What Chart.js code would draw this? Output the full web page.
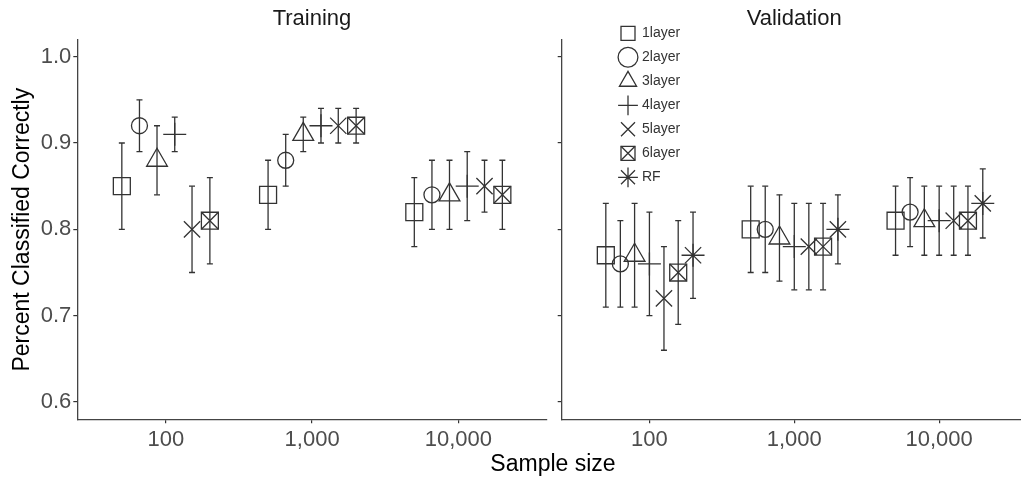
<!DOCTYPE html>
<html><head><meta charset="utf-8">
<script src="https://cdn.jsdelivr.net/npm/chart.js@4.4.1/dist/chart.umd.min.js"></script>
<style>
html,body{margin:0;padding:0;background:#fff;overflow:hidden;width:1021px;height:479px;}
#wrap{position:relative;width:1021px;height:479px;overflow:hidden;background:#fff;}
#c1{position:absolute;left:0;top:0;}
#c2{position:absolute;left:540px;top:0;}
#xtitle{position:absolute;left:453px;width:200px;text-align:center;top:452px;font-family:"Liberation Sans",Arial,sans-serif;font-size:23px;line-height:23px;color:#000;}
</style></head><body>
<div id="wrap">
<canvas id="c1" width="560" height="479"></canvas>
<canvas id="c2" width="500" height="479"></canvas>
<div id="xtitle">Sample size</div>
</div>
<script>
// ---------- data ----------
const seriesNames = ['1layer','2layer','3layer','4layer','5layer','6layer','RF'];
const xTickValues = [100, 1000, 10000];
const xTickLabels = ['100', '1,000', '10,000'];
const yTickValues = [0.6, 0.7, 0.8, 0.9, 1.0];
const yTickLabels = ['0.6', '0.7', '0.8', '0.9', '1.0'];

// Training (6 series, dodged around 100 / 1,000 / 10,000)
const trainSampleSize = [
  [50, 500, 5000], [66, 660, 6600], [87, 870, 8700],
  [115, 1150, 11500], [151, 1510, 15100], [200, 2000, 20000]
];
const trainAccuracy = [
  [0.85, 0.84, 0.82], [0.92, 0.88, 0.84], [0.88, 0.91, 0.84],
  [0.91, 0.92, 0.85], [0.80, 0.92, 0.85], [0.81, 0.92, 0.84]
];
const trainLower = [
  [0.80, 0.80, 0.78], [0.89, 0.85, 0.80], [0.84, 0.89, 0.80],
  [0.89, 0.90, 0.81], [0.75, 0.90, 0.82], [0.76, 0.90, 0.80]
];
const trainUpper = [
  [0.90, 0.88, 0.86], [0.95, 0.91, 0.88], [0.92, 0.93, 0.88],
  [0.93, 0.94, 0.89], [0.85, 0.94, 0.88], [0.86, 0.94, 0.88]
];

// Validation (7 series)
const validSampleSize = [
  [50, 500, 5000], [63, 630, 6300], [79, 790, 7900], [100, 1000, 10000],
  [126, 1260, 12600], [158, 1580, 15800], [200, 2000, 20000]
];
const validAccuracy = [
  [0.77, 0.80, 0.81], [0.76, 0.80, 0.82], [0.77, 0.79, 0.81], [0.76, 0.78, 0.81],
  [0.72, 0.78, 0.81], [0.75, 0.78, 0.81], [0.77, 0.80, 0.83]
];
const validLower = [
  [0.71, 0.75, 0.77], [0.71, 0.75, 0.78], [0.71, 0.74, 0.77], [0.70, 0.73, 0.77],
  [0.66, 0.73, 0.77], [0.69, 0.73, 0.77], [0.72, 0.76, 0.79]
];
const validUpper = [
  [0.83, 0.85, 0.85], [0.81, 0.85, 0.86], [0.83, 0.84, 0.85], [0.82, 0.83, 0.85],
  [0.78, 0.83, 0.85], [0.81, 0.83, 0.85], [0.82, 0.84, 0.87]
];

// ---------- styles ----------
const INK = '#333333';
const FONT = '"Liberation Sans", Arial, sans-serif';
Chart.defaults.font.family = FONT;

// 6layer = square with an X inside (rect + crossRot overlay)
const markerStyle = ['rect', 'circle', 'triangle', 'cross', 'crossRot', 'rect', 'star'];
const markerRadius = [12, 8, 12, 11.5, 11.5, 12, 11.5];
const BOXX_INDEX = 5;

function buildDatasets(xs, ys, lo, hi) {
  const n = xs.length;
  const ds = [];
  for (let s = 0; s < n; s++) {
    ds.push({
      type: 'scatter', label: seriesNames[s], order: 1,
      data: xs[s].map((x, i) => ({x: x, y: ys[s][i]})),
      pointStyle: markerStyle[s], pointRadius: markerRadius[s],
      borderColor: INK, pointBorderColor: INK,
      backgroundColor: 'rgba(0,0,0,0)', pointBackgroundColor: 'rgba(0,0,0,0)',
      borderWidth: 1.3, pointBorderWidth: 1.3, showLine: false
    });
  }
  // the X inside the 6layer squares
  ds.push({
    type: 'scatter', label: 'x ' + seriesNames[BOXX_INDEX], order: 1,
    data: xs[BOXX_INDEX].map((x, i) => ({x: x, y: ys[BOXX_INDEX][i]})),
    pointStyle: 'crossRot', pointRadius: 12,
    borderColor: INK, pointBorderColor: INK,
    backgroundColor: 'rgba(0,0,0,0)', pointBackgroundColor: 'rgba(0,0,0,0)',
    borderWidth: 1.3, pointBorderWidth: 1.3, showLine: false
  });
  for (let s = 0; s < n; s++) {
    const pts = [];
    xs[s].forEach((x, i) => { pts.push({x: x, y: lo[s][i]}, {x: x, y: hi[s][i]}, {x: x, y: null}); });
    ds.push({
      type: 'scatter', label: 'err ' + seriesNames[s], data: pts, order: 0,
      showLine: true, spanGaps: false,
      borderColor: INK, borderWidth: 1.3,
      pointStyle: 'line', pointRadius: 3,
      pointBorderColor: INK, pointBorderWidth: 1.3, pointBackgroundColor: INK
    });
  }
  return ds;
}

function makeScales(isLeft) {
  return {
    x: {
      type: 'logarithmic', min: 24.8, max: 40200,
      afterBuildTicks: s => { s.ticks = xTickValues.map(v => ({value: v})); },
      ticks: { callback: (v, i) => xTickLabels[i], color: '#4d4d4d', font: {size: 22}, padding: 3, maxRotation: 0, autoSkip: false },
      grid: { display: true, drawOnChartArea: false, drawTicks: true, tickLength: 4, color: '#333', lineWidth: 1.2 },
      border: { display: true, color: '#444', width: 1.3 },
      afterFit: s => { s.height = 59.7; }
    },
    y: {
      type: 'linear', min: 0.58, max: 1.0193,
      afterBuildTicks: s => { s.ticks = yTickValues.map(v => ({value: v})); },
      ticks: { display: isLeft, callback: (v, i) => yTickLabels[i], color: '#4d4d4d', font: {size: 22}, padding: 2 },
      grid: { display: true, drawOnChartArea: false, drawTicks: true, tickLength: 4, color: '#333', lineWidth: 1.2 },
      border: { display: true, color: '#444', width: 1.3 },
      title: isLeft ? { display: true, text: 'Percent Classified Correctly', color: '#000', font: {size: 23, lineHeight: 1}, padding: {top: 11, bottom: 0} } : { display: false },
      afterFit: s => { s.width = isLeft ? 77.3 : 21.7; }
    }
  };
}

function titleOpts(text) {
  return { display: true, text: text, fullSize: false, color: '#1a1a1a',
    font: {size: 22, weight: 'normal', lineHeight: 1.2}, padding: {top: 5.8, bottom: 7.8} };
}

new Chart(document.getElementById('c1'), {
  type: 'scatter',
  data: { datasets: buildDatasets(trainSampleSize, trainAccuracy, trainLower, trainUpper) },
  options: {
    responsive: false, animation: false, events: [],
    layout: { padding: {left: 0, top: 0, right: 12.7, bottom: 0} },
    scales: makeScales(true),
    plugins: { legend: { display: false }, tooltip: { enabled: false }, title: titleOpts('Training') }
  }
});

const LEG_LEFT = 71, LEG_TOP = 16.3, LEG_FONT = 14, LEG_PAD = 10;
const legendMover = {
  id: 'legendMover',
  afterLayout(chart) {
    const lg = chart.legend;
    if (!lg) return;
    const w = lg.width, h = lg.height;
    lg.left = LEG_LEFT; lg.top = LEG_TOP; lg.right = LEG_LEFT + w; lg.bottom = LEG_TOP + h;
  },
  afterDraw(chart) {
    // add the X inside the 6layer legend square
    const ctx = chart.ctx;
    const cx = LEG_LEFT + LEG_PAD + LEG_FONT / 2;
    const cy = LEG_TOP + LEG_PAD + BOXX_INDEX * (LEG_FONT + LEG_PAD) + LEG_FONT / 2;
    ctx.save();
    ctx.strokeStyle = INK; ctx.lineWidth = 1.3;
    if (Chart.helpers && Chart.helpers.drawPoint) {
      Chart.helpers.drawPoint(ctx, {pointStyle: 'crossRot', radius: LEG_FONT * Math.SQRT2 / 2, borderWidth: 1.3, rotation: 0}, cx, cy);
    } else {
      const d = LEG_FONT / 2;
      ctx.beginPath(); ctx.moveTo(cx - d, cy - d); ctx.lineTo(cx + d, cy + d);
      ctx.moveTo(cx + d, cy - d); ctx.lineTo(cx - d, cy + d); ctx.stroke();
    }
    ctx.restore();
  }
};

new Chart(document.getElementById('c2'), {
  type: 'scatter',
  data: { datasets: buildDatasets(validSampleSize, validAccuracy, validLower, validUpper) },
  options: {
    responsive: false, animation: false, events: [],
    layout: { padding: {left: 0, top: 0, right: 8.3, bottom: 0} },
    scales: makeScales(false),
    plugins: {
      tooltip: { enabled: false },
      title: titleOpts('Validation'),
      legend: {
        display: true, position: 'chartArea', align: 'start',
        labels: {
          usePointStyle: true, color: '#333', font: {size: LEG_FONT}, padding: LEG_PAD,
          filter: (item) => item.datasetIndex < seriesNames.length
        }
      }
    }
  },
  plugins: [legendMover]
});
</script>
</body></html>
